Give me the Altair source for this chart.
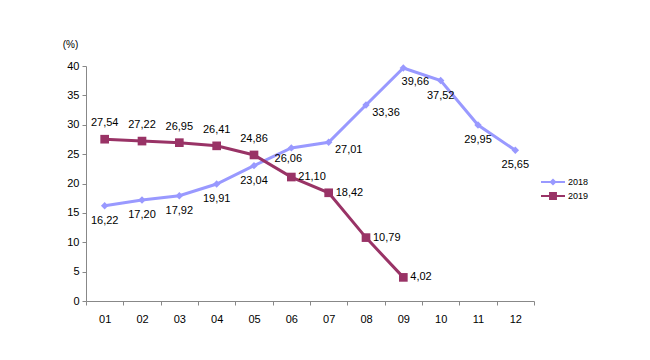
import altair as alt
import pandas as pd

months = ["01", "02", "03", "04", "05", "06", "07", "08", "09", "10", "11", "12"]
values_2018 = [16.22, 17.20, 17.92, 19.91, 23.04, 26.06, 27.01, 33.36, 39.66, 37.52, 29.95, 25.65]
values_2019 = [27.54, 27.22, 26.95, 26.41, 24.86, 21.10, 18.42, 10.79, 4.02]
series = ["2018", "2019"]
colors = ["#9999FF", "#993366"]

# label placement per point (style, not data)
place_2018 = ["below"] * 5 + ["belowleft"] + ["belowright"] * 2 + ["belowright2"] + ["below"] * 3
place_2019 = ["above"] * 5 + ["right"] * 4
offsets = {
    "below": dict(dx=0, dy=15),
    "belowleft": dict(dx=-3, dy=11),
    "belowright": dict(dx=20, dy=8),
    "belowright2": dict(dx=12, dy=14),
    "above": dict(dy=-16),
    "right": dict(dx=7, align="left"),
}

rows = []
for m, v, p in zip(months, values_2018, place_2018):
    rows.append({"month": m, "year": "2018", "value": v, "pos": p})
for m, v, p in zip(months, values_2019, place_2019):
    rows.append({"month": m, "year": "2019", "value": v, "pos": p})
df = pd.DataFrame(rows)
df["label"] = df["value"].map(lambda v: f"{v:.2f}".replace(".", ","))

FONT = "Liberation Sans"

x = alt.X("month:O", sort=months, scale=alt.Scale(paddingInner=0, paddingOuter=0),
          axis=alt.Axis(title=None, labelAngle=0, tickBand="extent", labelFontSize=11,
                        labelPadding=8, tickSize=4, domainColor="#888888", tickColor="#888888",
                        labelColor="#000000"))
y = alt.Y("value:Q", scale=alt.Scale(domain=[0, 40], nice=False),
          axis=alt.Axis(values=list(range(0, 41, 5)), grid=False, title="(%)", titleAngle=0,
                        titleX=-16, titleY=-22, titleFontSize=10, titleFontWeight="normal",
                        titleAlign="center", titleBaseline="middle",
                        labelFontSize=11, tickSize=4, domainColor="#888888", tickColor="#888888",
                        labelColor="#000000", labelPadding=3))

base = alt.Chart(df).encode(x=x, y=y)

layers = []
for yr, col, shp, sz in [("2018", colors[0], "diamond", 55), ("2019", colors[1], "square", 75)]:
    sub = base.transform_filter(alt.datum.year == yr)
    layers.append(sub.mark_line(color=col, strokeWidth=3))
    layers.append(sub.mark_point(shape=shp, filled=True, color=col, size=sz, opacity=1))

text_base = base.encode(text="label:N")
for pos, off in offsets.items():
    layers.append(text_base.transform_filter(alt.datum.pos == pos).mark_text(
        font=FONT, fontSize=11, color="#000000", **off))

line_diamond = "M-1,-0.09L1,-0.09L1,0.09L-1,0.09Z M0,-0.3L0.3,0L0,0.3L-0.3,0Z"
line_square = "M-1,-0.09L1,-0.09L1,0.09L-1,0.09Z M-0.33,-0.33L0.33,-0.33L0.33,0.33L-0.33,0.33Z"

leg = alt.Legend(title=None, orient="none", legendX=455, legendY=109,
                 symbolSize=576, clipHeight=14, labelFontSize=9,
                 labelOffset=3, padding=0, rowPadding=0,
                 symbolStrokeWidth=0, labelFont=FONT)
legend_layer = alt.Chart(df).transform_filter("false").mark_point(filled=True, opacity=1).encode(
    color=alt.Color("year:N", scale=alt.Scale(domain=series, range=colors), legend=leg),
    shape=alt.Shape("year:N", scale=alt.Scale(domain=series, range=[line_diamond, line_square]),
                    legend=leg),
)
layers.append(legend_layer)

chart = alt.layer(*layers).properties(
    width=448, height=235,
    autosize=alt.AutoSizeParams(type="none"),
    padding={"left": 78, "top": 58, "right": 100, "bottom": 40},
).configure(font=FONT).configure_view(stroke=None).configure_axis(labelFont=FONT, titleFont=FONT)

chart.save("out.html", embed_options={"renderer": "svg", "actions": False})
